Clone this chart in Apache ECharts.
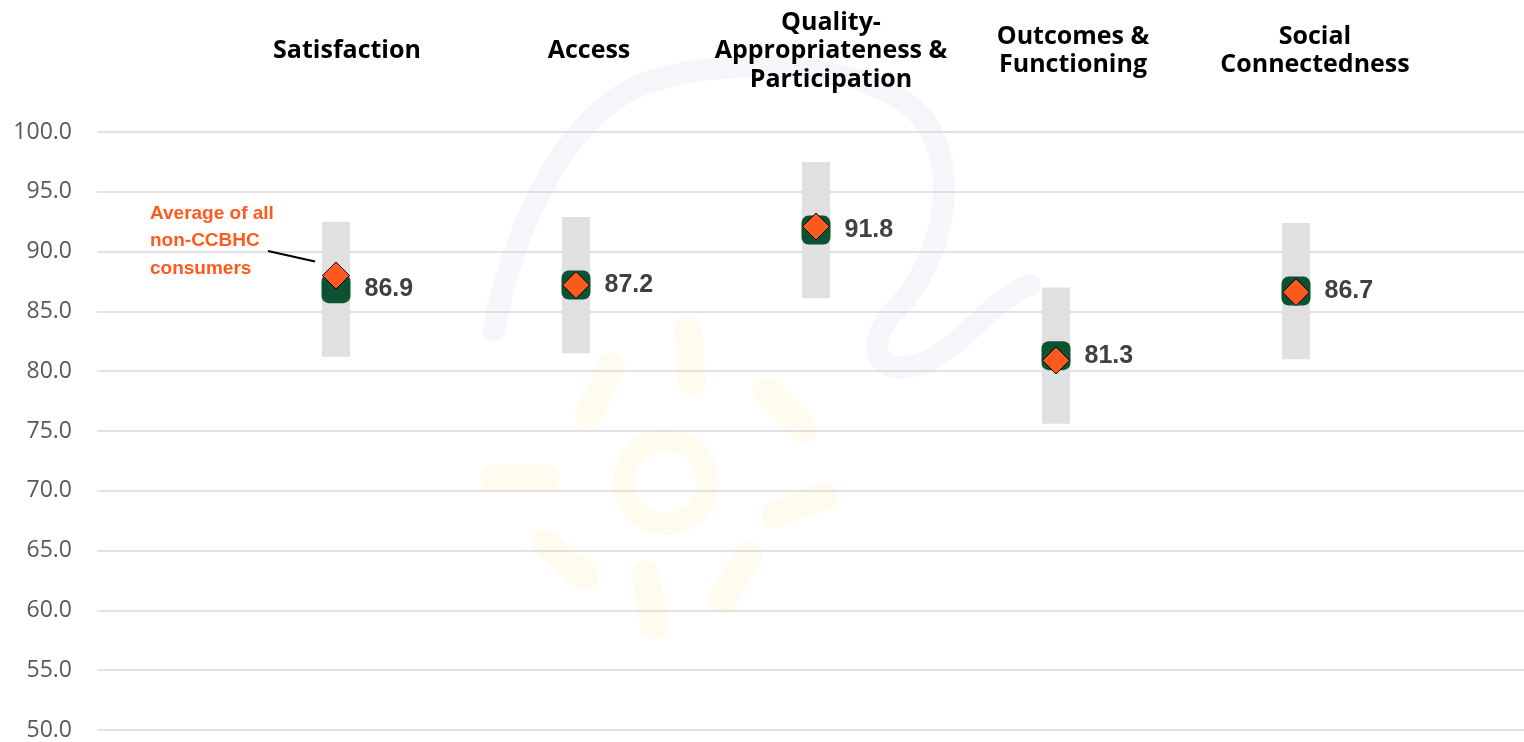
<!DOCTYPE html>
<html>
<head>
<meta charset="utf-8">
<title>CCBHC consumer survey domains</title>
<script src="https://cdn.jsdelivr.net/npm/echarts@6/dist/echarts.min.js"></script>
<style>
  html, body { margin: 0; padding: 0; background: #fff; }
  #chart { width: 1524px; height: 742px; }
</style>
</head>
<body>
<div id="chart"></div>
<script>
// domains (top labels)
const domains = [
  "Satisfaction",
  "Access",
  "Quality-\nAppropriateness &\nParticipation",
  "Outcomes &\nFunctioning",
  "Social\nConnectedness"
];
// CCBHC score per domain
const ccbhcScore = [86.9, 87.2, 91.8, 81.3, 86.7];
// average of all non-CCBHC consumers
const nonCcbhcAvg = [88.0, 87.2, 92.1, 80.9, 86.6];
// grey range bars
const rangeLow = [81.2, 81.5, 86.1, 75.6, 81.0];
const rangeHigh = [92.5, 92.9, 97.5, 87.0, 92.4];
// y axis
const yMin = 50, yMax = 100, yStep = 5;

const chart = echarts.init(document.getElementById("chart"));

const rangeSize = rangeHigh.map((h, i) => +(h - rangeLow[i]).toFixed(1));

const option = {
  animation: false,
  grid: [
    { left: 97, right: 0, top: 132, bottom: 12 },     // gridlines + y labels
    { left: 216, width: 1200, top: 132, bottom: 12 }, // data
    { left: 226, width: 1210, top: 132, bottom: 12 }  // domain titles
  ],
  xAxis: [
    { gridIndex: 0, type: "value", show: false, min: 0, max: 1 },
    { gridIndex: 1, type: "category", data: domains, show: false },
    {
      gridIndex: 2,
      type: "category",
      data: domains,
      position: "top",
      axisLine: { show: false },
      axisTick: { show: false },
      axisLabel: {
        interval: 0,
        margin: 81,
        verticalAlign: "middle",
        fontFamily: "Open Sans",
        fontWeight: "bold",
        fontSize: 25,
        lineHeight: 28.5,
        color: "#000"
      }
    }
  ],
  yAxis: [
    {
      gridIndex: 0,
      type: "value",
      min: yMin,
      max: yMax,
      interval: yStep,
      axisLine: { show: false },
      axisTick: { show: false },
      splitLine: { lineStyle: { color: "#d9d9d9", width: 1.5 } },
      axisLabel: {
        margin: 25,
        fontFamily: "Open Sans",
        fontSize: 23,
        color: "#595959",
        formatter: (v) => v.toFixed(1)
      }
    },
    { gridIndex: 1, type: "value", min: yMin, max: yMax, show: false },
    { gridIndex: 2, type: "value", min: yMin, max: yMax, show: false }
  ],
  series: [
    {
      // invisible base up to the low end of the range
      type: "bar",
      xAxisIndex: 1,
      yAxisIndex: 1,
      stack: "range",
      barWidth: 28,
      itemStyle: { color: "rgba(0,0,0,0)" },
      silent: true,
      data: rangeLow
    },
    {
      type: "bar",
      xAxisIndex: 1,
      yAxisIndex: 1,
      stack: "range",
      barWidth: 28,
      itemStyle: { color: "#e0e0e0" },
      data: rangeSize
    },
    {
      type: "scatter",
      xAxisIndex: 1,
      yAxisIndex: 1,
      symbol: "roundRect",
      symbolSize: 29,
      itemStyle: { color: "#0b5230", opacity: 1 },
      z: 3,
      label: {
        show: true,
        position: "right",
        distance: 14,
        fontFamily: "Liberation Sans",
        fontWeight: "bold",
        fontSize: 25,
        color: "#404040",
        formatter: (p) => p.value.toFixed(1)
      },
      data: ccbhcScore
    },
    {
      type: "scatter",
      xAxisIndex: 1,
      yAxisIndex: 1,
      symbol: "diamond",
      symbolSize: 27,
      itemStyle: { color: "#ff5a1e", borderColor: "#000", borderWidth: 1, opacity: 1 },
      z: 4,
      data: nonCcbhcAvg
    }
  ]
};

chart.setOption(option);

// annotation pointing at the first non-CCBHC marker
const p = chart.convertToPixel({ gridIndex: 1 }, [0, nonCcbhcAvg[0]]);
const lineEnd = [p[0] - 21, p[1] - 14];

// faint watermark logo behind the chart (solid pale colours, no overlap seams)
const swoosh = [
  [494, 330, 510, 240, 560, 120, 640, 85],
  [640, 85, 720, 55, 860, 60, 915, 110],
  [915, 110, 965, 160, 945, 260, 895, 310],
  [895, 310, 860, 350, 880, 380, 925, 362],
  [925, 362, 965, 345, 990, 300, 1030, 285]
];
const wm = swoosh.map((s) => ({
  type: "bezierCurve",
  z: -10,
  silent: true,
  shape: { x1: s[0], y1: s[1], cpx1: s[2], cpy1: s[3], cpx2: s[4], cpy2: s[5], x2: s[6], y2: s[7] },
  style: { fill: null, stroke: "#f4f6fa", lineWidth: 22, lineCap: "round" }
}));
wm.push({
  type: "circle",
  z: -10,
  silent: true,
  shape: { cx: 666, cy: 482, r: 42 },
  style: { fill: null, stroke: "#fffcef", lineWidth: 22 }
});
const rays = [
  [520, 478, 0], [600, 390, 65], [690, 355, 95], [785, 410, 135],
  [800, 505, 20], [735, 578, 60], [650, 600, 100], [565, 560, 140]
];
rays.forEach((r) => {
  wm.push({
    type: "rect",
    z: -10,
    silent: true,
    x: r[0], y: r[1], rotation: (r[2] * Math.PI) / 180,
    shape: { x: -40, y: -14, width: 80, height: 28, r: 14 },
    style: { fill: "#fffcef" }
  });
});

chart.setOption({
  graphic: wm.concat([
    {
      type: "text",
      left: 150,
      top: 200,
      style: {
        text: "Average of all\nnon-CCBHC\nconsumers",
        font: "bold 19px 'Liberation Sans'",
        lineHeight: 27.5,
        fill: "#ff5a1e"
      }
    },
    {
      type: "line",
      shape: { x1: 268, y1: 251, x2: lineEnd[0], y2: lineEnd[1] },
      style: { stroke: "#000", lineWidth: 2 }
    }
  ])
});

window.addEventListener("resize", () => chart.resize());
</script>
</body>
</html>
